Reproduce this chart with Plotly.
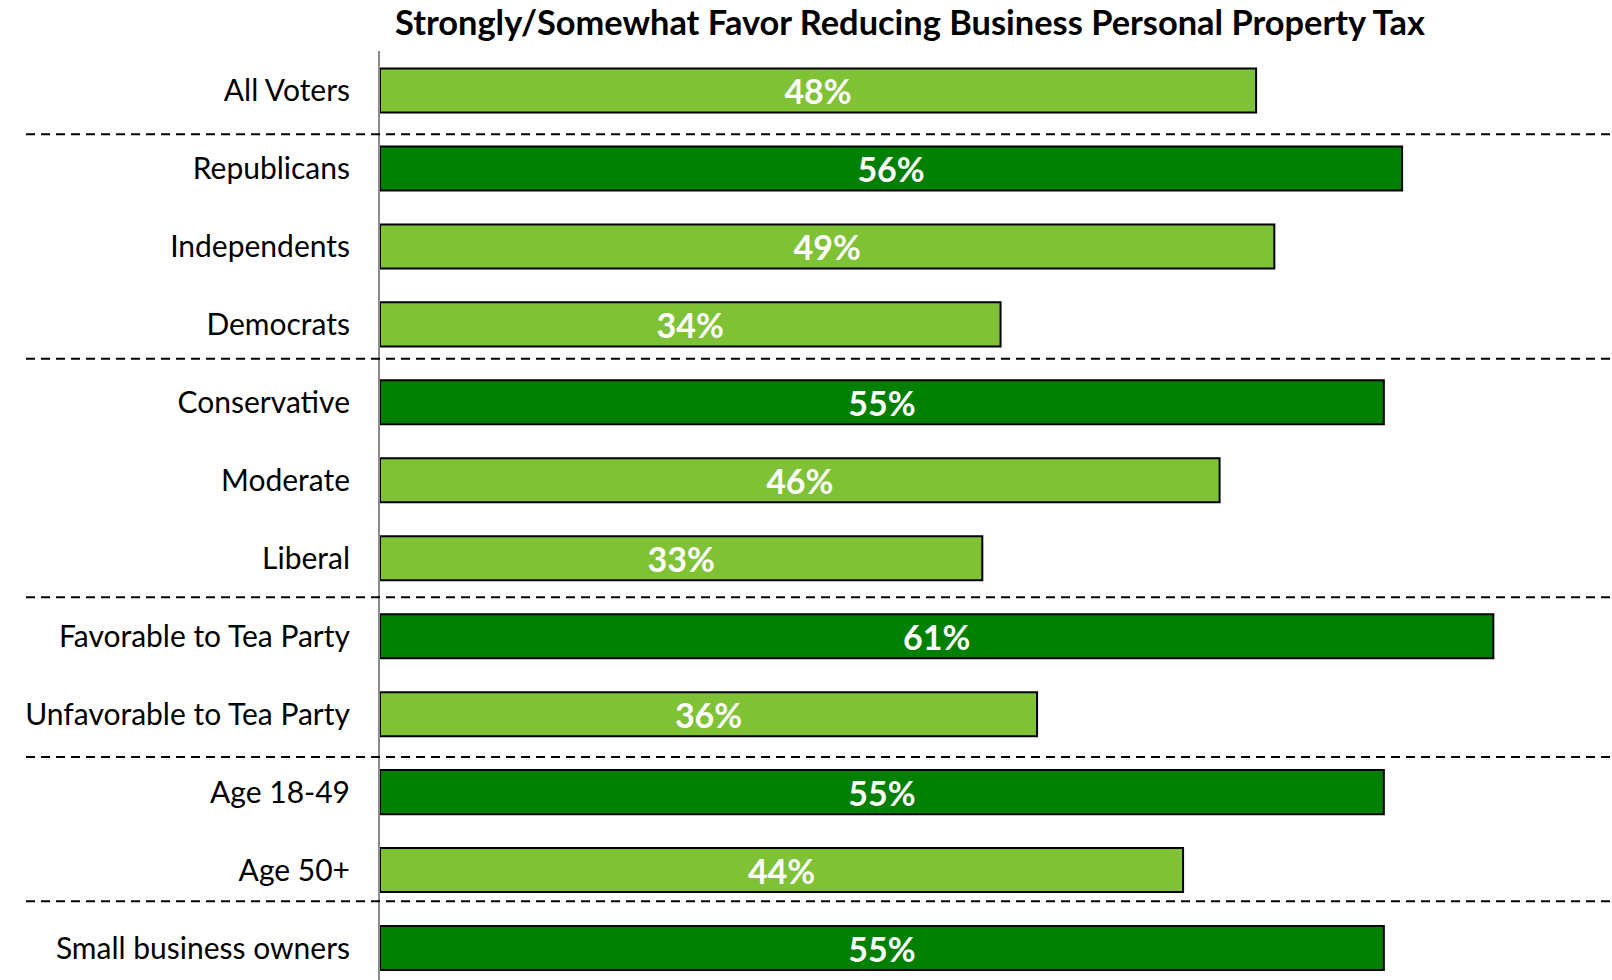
import plotly.graph_objects as go

# survey groups, top to bottom
groups = [
    "All Voters", "Republicans", "Independents", "Democrats",
    "Conservative", "Moderate", "Liberal",
    "Favorable to Tea Party", "Unfavorable to Tea Party",
    "Age 18-49", "Age 50+", "Small business owners",
]
favor_pct = [48, 56, 49, 34, 55, 46, 33, 61, 36, 55, 44, 55]
highlight = [0, 1, 0, 0, 1, 0, 0, 1, 0, 1, 0, 1]

# separator lines between blocks (in row units)
separators = [0.56, 3.44, 6.5, 8.55, 10.4]

LIGHT = "#80C236"
DARK = "#008000"
FONT = "Lato"

fig = go.Figure()

fig.add_trace(go.Bar(
    x=favor_pct,
    y=groups,
    orientation="h",
    width=0.565,
    marker=dict(
        color=[DARK if h else LIGHT for h in highlight],
        line=dict(color="black", width=2),
    ),
    text=[f"{v}%" for v in favor_pct],
    textposition="inside",
    insidetextanchor="middle",
    constraintext="none",
    textfont=dict(family=FONT, size=34, color="white", weight="bold"),
    cliponaxis=False,
    hoverinfo="skip",
))

# dashed group separators running across the label column too
for s in separators:
    fig.add_shape(
        type="line", xref="paper", yref="y",
        x0=-0.2873, x1=1, y0=s, y1=s,
        line=dict(color="black", width=2, dash="9px,6px"),
    )

fig.update_layout(
    width=1612,
    height=980,
    margin=dict(l=380, r=0, t=51, b=0),
    paper_bgcolor="white",
    plot_bgcolor="white",
    showlegend=False,
    title=dict(
        text="<b>Strongly/Somewhat Favor Reducing Business Personal Property Tax</b>",
        x=0.5645, xref="container", xanchor="center",
        y=1 - 23 / 980, yref="container", yanchor="middle",
        font=dict(family=FONT, size=34.4, color="black"),
    ),
    xaxis=dict(
        range=[0, 67.5],
        showgrid=False,
        zeroline=False,
        showticklabels=False,
        showline=False,
    ),
    yaxis=dict(
        type="category",
        categoryorder="array",
        categoryarray=groups,
        range=[11.41, -0.507],
        showgrid=False,
        zeroline=False,
        showline=True,
        linecolor="#8c8c8c",
        linewidth=2,
        ticks="",
        ticklabelstandoff=22,
        tickfont=dict(family=FONT, size=30, color="black"),
    ),
)

# page margin off so the figure sits flush in the window
fig.write_html(
    "out.html",
    config={"displayModeBar": False},
    post_script="document.body.style.margin='0';document.body.style.overflow='hidden';",
)
